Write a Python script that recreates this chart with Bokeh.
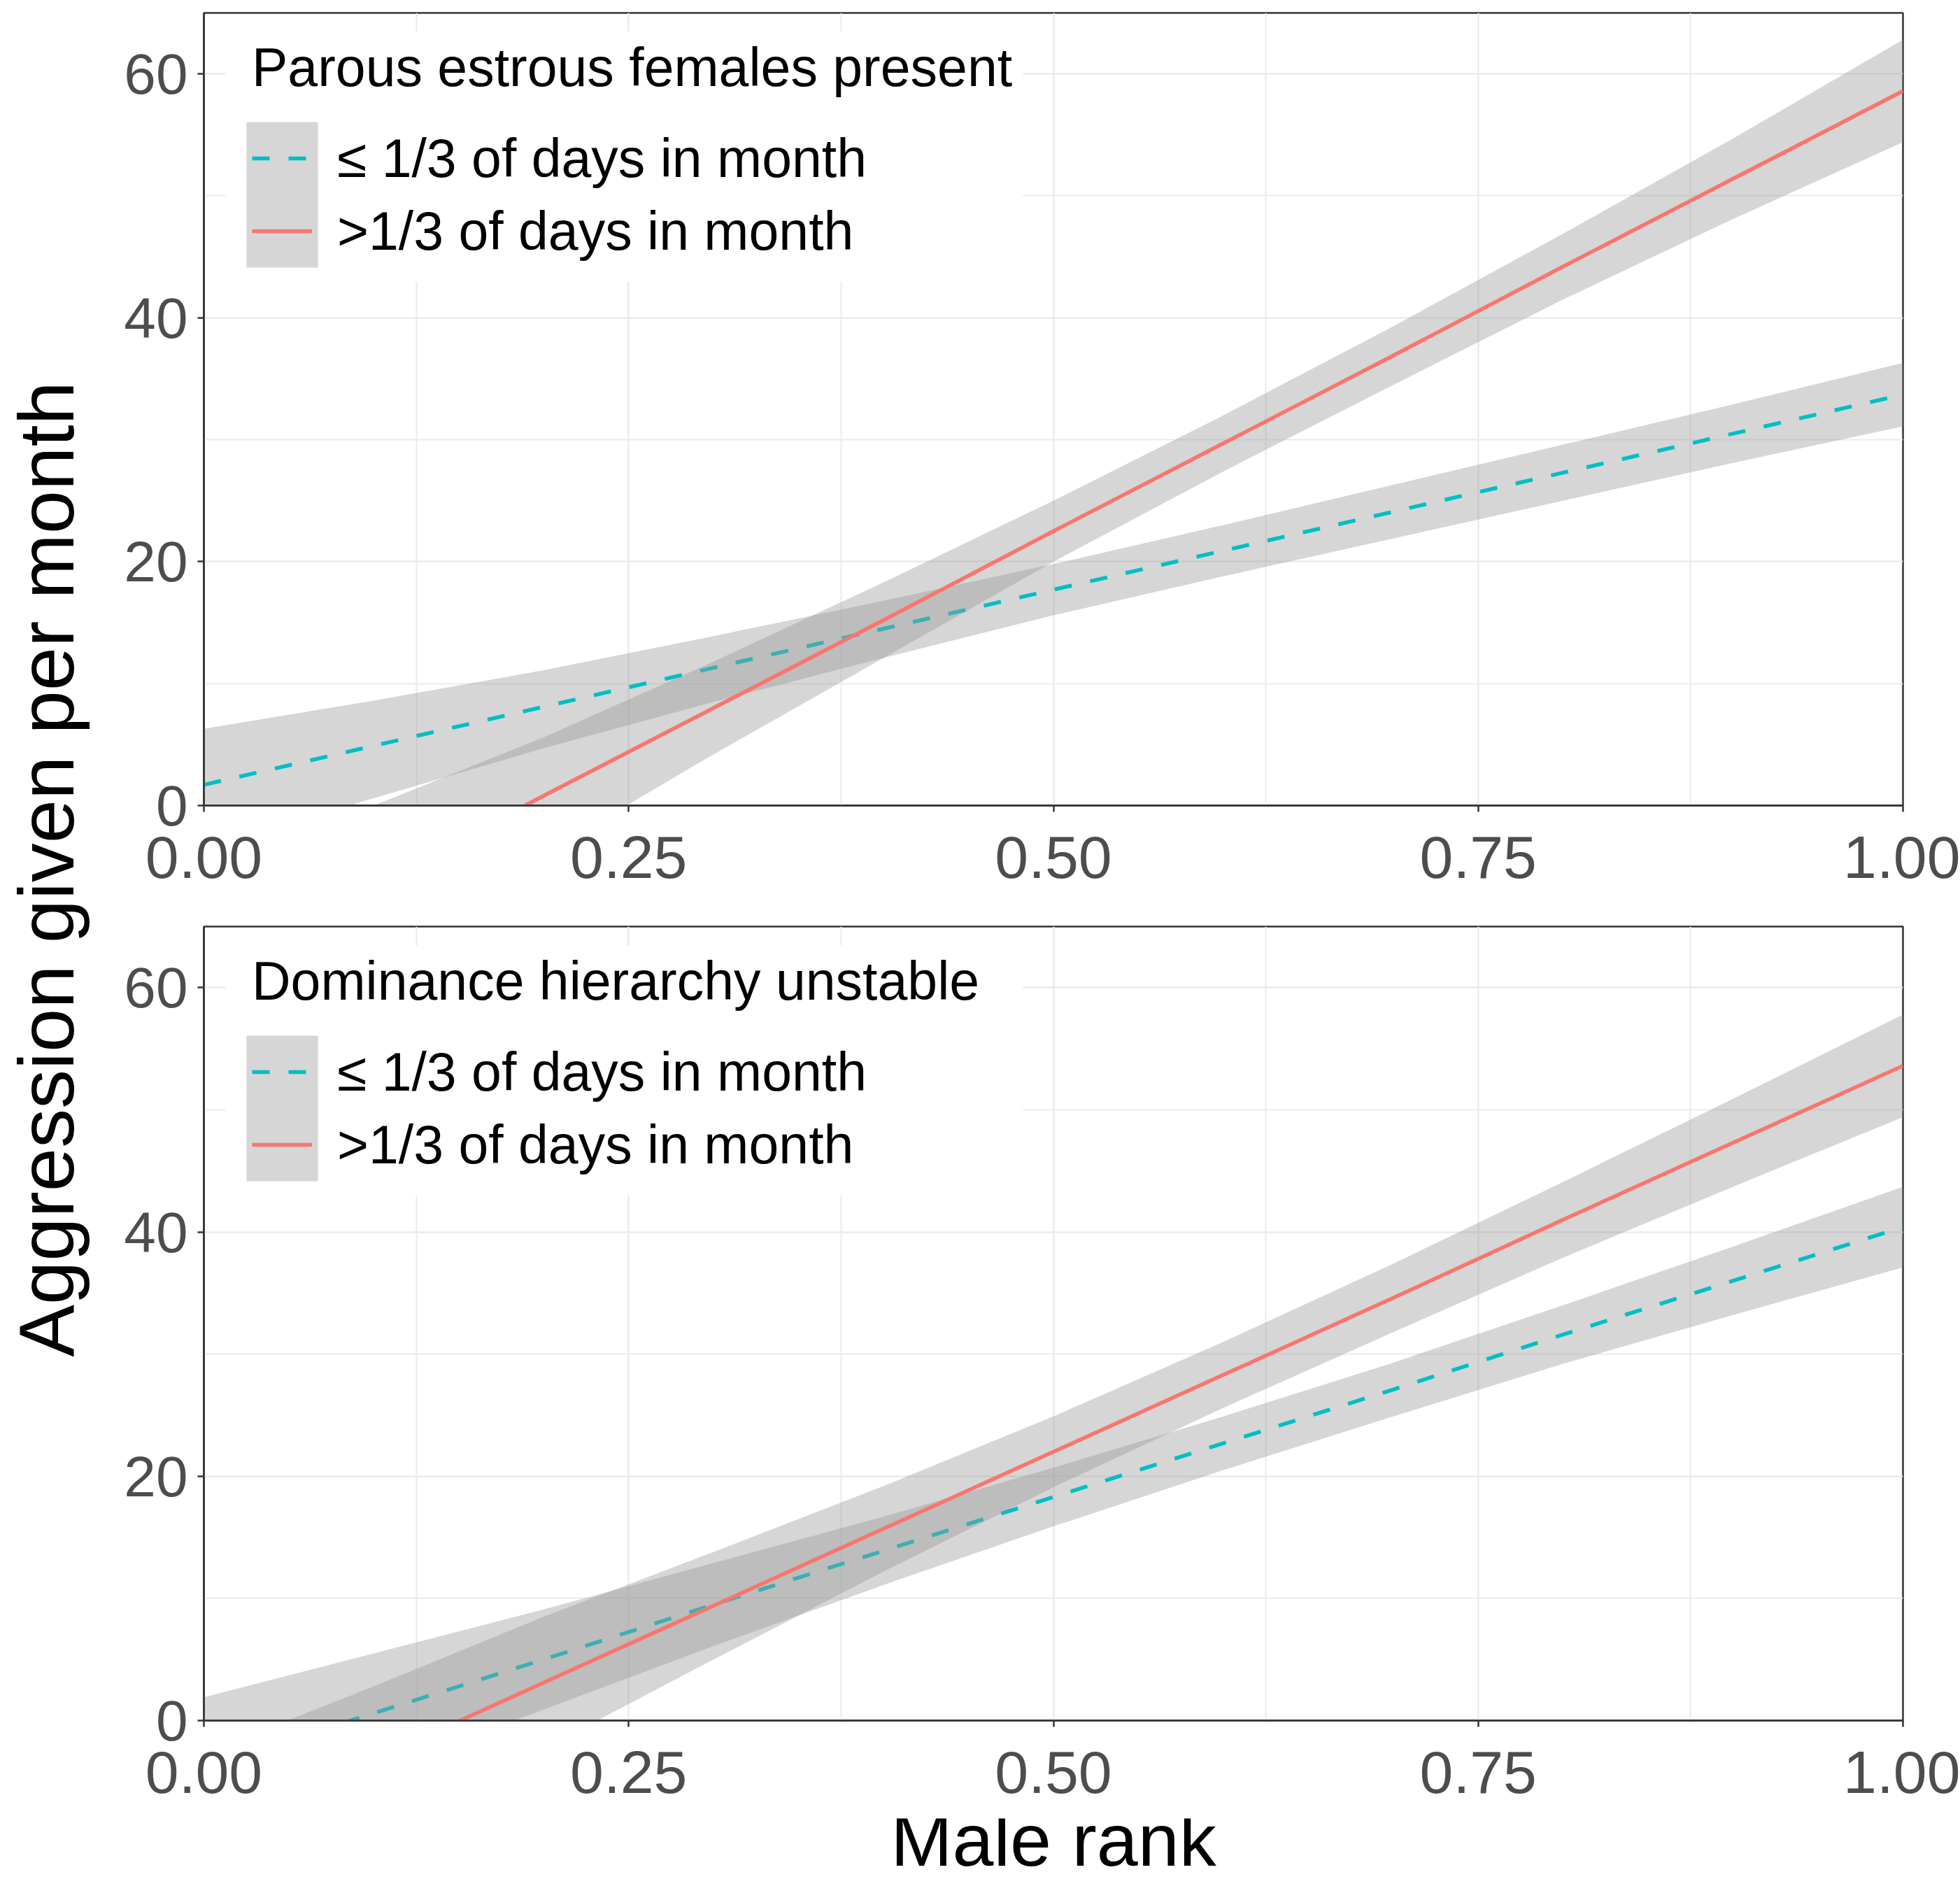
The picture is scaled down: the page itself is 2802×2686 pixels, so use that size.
import numpy as np
from bokeh.plotting import figure
from bokeh.layouts import row, column
from bokeh.models import (Range1d, FixedTicker, NumeralTickFormatter, Legend,
                          LegendItem, Label, ColumnDataSource, BoxAnnotation)
from bokeh.embed import file_html
from bokeh.resources import INLINE

# ---------------- data ----------------
rank = [0.0, 0.1, 0.2, 0.3, 0.4, 0.5, 0.6, 0.7, 0.8, 0.9, 1.0]

series_labels = ["\u2264 1/3 of days in month", ">1/3 of days in month"]

# Top panel: parous estrous females present
top_title = "Parous estrous females present"
top_low_fit = [1.7, 4.9, 8.1, 11.3, 14.5, 17.7, 20.9, 24.1, 27.3, 30.5, 33.7]
top_low_upper = [6.3, 8.6, 11.1, 13.9, 16.8, 19.8, 23.0, 26.3, 29.6, 32.9, 36.3]
top_low_lower = [-3.5, 0.6, 4.7, 8.5, 12.1, 15.6, 18.8, 21.9, 25.0, 28.1, 31.1]
top_high_fit = [-13.7, -6.4, 0.8, 8.0, 15.2, 22.5, 29.7, 36.9, 44.2, 51.4, 58.6]
top_high_upper = [-6.3, 0.0, 5.6, 11.8, 18.3, 25.0, 32.0, 39.3, 46.9, 54.7, 62.8]
top_high_lower = [-21.5, -12.8, -4.0, 4.2, 12.1, 20.0, 27.4, 34.5, 41.5, 48.1, 54.4]

# Bottom panel: dominance hierarchy unstable
bot_title = "Dominance hierarchy unstable"
bot_low_fit = [-3.8, 0.6, 5.0, 9.5, 13.9, 18.3, 22.7, 27.1, 31.6, 36.0, 40.4]
bot_low_upper = [1.9, 5.5, 9.1, 12.9, 16.7, 20.7, 24.9, 29.3, 34.0, 38.8, 43.7]
bot_low_lower = [-9.5, -4.3, 0.9, 6.1, 11.1, 15.9, 20.5, 24.9, 29.2, 33.2, 37.1]
bot_high_fit = [-9.5, -3.2, 3.1, 9.4, 15.7, 22.0, 28.3, 34.6, 41.0, 47.3, 53.6]
bot_high_upper = [-2.7, 2.8, 8.5, 13.8, 19.2, 24.9, 31.0, 37.4, 44.1, 50.9, 57.8]
bot_high_lower = [-16.3, -9.2, -2.3, 5.0, 12.2, 19.1, 25.6, 31.8, 37.9, 43.7, 49.4]

x_ticks = [0.0, 0.25, 0.5, 0.75, 1.0]
x_minor = [0.125, 0.375, 0.625, 0.875]
y_ticks = [0, 20, 40, 60]
y_minor = [10, 30, 50]

x_title = "Male rank"
y_title = "Aggression given per month"

# ---------------- styling ----------------
FONT = "Liberation Sans"
BLUE = "#00BFC4"
RED = "#F8766D"
AXC = "#333333"
GRID = "#EBEBEB"

PANEL_W = 2674
LEFT_B = 163
RIGHT_B = 82
FRAME_W = PANEL_W - LEFT_B - RIGHT_B
Y_MAX = 65


def box_px(p, frame_h, x0, x1, y0, y1, **kw):
    """Decorative box given in pixel offsets from the frame's top-left corner."""
    p.add_layout(BoxAnnotation(left=x0 / FRAME_W, right=x1 / FRAME_W,
                               top=Y_MAX - y0 * Y_MAX / frame_h,
                               bottom=Y_MAX - y1 * Y_MAX / frame_h,
                               line_color=None, **kw))


def make_panel(title, lf, lu, ll, hf, hu, hl, height, top_border, bottom_border, frame_h):
    p = figure(width=PANEL_W, height=height, x_range=Range1d(0, 1), y_range=Range1d(0, Y_MAX),
               output_backend="svg", toolbar_location=None,
               min_border_left=LEFT_B, min_border_right=RIGHT_B,
               min_border_top=top_border, min_border_bottom=bottom_border)
    p.background_fill_color = "white"
    p.border_fill_color = "white"
    p.outline_line_color = AXC
    p.outline_line_width = 2.5

    src = ColumnDataSource(dict(x=rank, lf=lf, lu=lu, ll=ll, hf=hf, hu=hu, hl=hl))
    p.varea(x="x", y1="ll", y2="lu", source=src, fill_color="#999999", fill_alpha=0.4)
    l1 = p.line(x="x", y="lf", source=src, line_color=BLUE, line_width=5.5, line_dash="25 27")
    p.varea(x="x", y1="hl", y2="hu", source=src, fill_color="#999999", fill_alpha=0.4)
    l2 = p.line(x="x", y="hf", source=src, line_color=RED, line_width=5.5)

    p.xaxis.ticker = FixedTicker(ticks=x_ticks, minor_ticks=x_minor)
    p.yaxis.ticker = FixedTicker(ticks=y_ticks, minor_ticks=y_minor)
    p.xaxis.formatter = NumeralTickFormatter(format="0.00")
    p.yaxis.formatter = NumeralTickFormatter(format="0")

    for ax in (p.xaxis[0], p.yaxis[0]):
        ax.axis_line_color = AXC
        ax.axis_line_width = 2.5
        ax.major_tick_line_color = AXC
        ax.major_tick_line_width = 2.5
        ax.major_tick_out = 9
        ax.major_tick_in = 0
        ax.minor_tick_line_color = None
        ax.minor_tick_out = 0
        ax.minor_tick_in = 0
        ax.major_label_text_color = "#4D4D4D"
        ax.major_label_text_font = FONT
    p.xaxis.major_label_text_font_size = "86px"
    p.xaxis.major_label_standoff = 35
    p.yaxis.major_label_text_font_size = "82px"
    p.yaxis.major_label_standoff = 14

    p.xgrid.grid_line_color = GRID
    p.xgrid.grid_line_width = 2.5
    p.ygrid.grid_line_color = GRID
    p.ygrid.grid_line_width = 2.5
    p.xgrid.minor_grid_line_color = GRID
    p.xgrid.minor_grid_line_width = 2.0
    p.ygrid.minor_grid_line_color = GRID
    p.ygrid.minor_grid_line_width = 2.0

    # legend background (white) and the shared grey key box behind both keys
    box_px(p, frame_h, 31, 1171, 27, 384, fill_color="white", fill_alpha=1.0)
    box_px(p, frame_h, 61, 163, 156, 364, fill_color="#999999", fill_alpha=0.4)

    legend = Legend(
        items=[LegendItem(label=series_labels[0], renderers=[l1]),
               LegendItem(label=series_labels[1], renderers=[l2])],
        title=title,
        location=(54, frame_h - 379),
        padding=15, margin=0, spacing=0,
        glyph_width=86, glyph_height=104, label_standoff=36,
        title_standoff=33,
        label_text_font=FONT, label_text_font_size="77px", label_text_color="black",
        title_text_font=FONT, title_text_font_size="77px", title_text_color="black",
        title_text_font_style="normal",
        border_line_alpha=0, background_fill_alpha=0.0,
    )
    p.add_layout(legend)
    return p


TOP_FRAME = 1133
BOT_FRAME = 1135
TOP_H = 18 + TOP_FRAME + 163
BOT_BORDER = 140
BOT_H = 10 + BOT_FRAME + BOT_BORDER
LBL_H = 87
top = make_panel(top_title, top_low_fit, top_low_upper, top_low_lower,
                 top_high_fit, top_high_upper, top_high_lower,
                 TOP_H, 18, 163, TOP_FRAME)
bottom = make_panel(bot_title, bot_low_fit, bot_low_upper, bot_low_lower,
                    bot_high_fit, bot_high_upper, bot_high_lower,
                    BOT_H, 10, BOT_BORDER, BOT_FRAME)

# x-axis title strip below the bottom panel
px = figure(width=PANEL_W, height=LBL_H, x_range=Range1d(0, 1), y_range=Range1d(LBL_H, 0),
            x_axis_type=None, y_axis_type=None, output_backend="svg", toolbar_location=None,
            min_border_left=LEFT_B, min_border_right=RIGHT_B, min_border_top=0, min_border_bottom=0,
            outline_line_color=None)
px.background_fill_color = "white"
px.border_fill_color = "white"
px.add_layout(Label(x=0.5, y=30, text=x_title, text_align="center",
                    text_baseline="alphabetic", text_font=FONT, text_font_size="106px",
                    text_color="black"))

TITLE_W = 128
TOTAL_H = TOP_H + BOT_H + LBL_H
pt = figure(width=TITLE_W, height=TOTAL_H, x_range=Range1d(0, TITLE_W), y_range=Range1d(TOTAL_H, 0),
            x_axis_type=None, y_axis_type=None, output_backend="svg", toolbar_location=None,
            min_border=0, outline_line_color=None)
pt.background_fill_color = "white"
pt.border_fill_color = "white"
pt.add_layout(Label(x=66, y=1242, text=y_title, angle=np.pi / 2,
                    text_align="center", text_baseline="alphabetic",
                    text_font=FONT, text_font_size="112px", text_color="black"))

layout = row(pt, column(top, bottom, px))

open("out.html", "w").write(file_html(layout, INLINE))
